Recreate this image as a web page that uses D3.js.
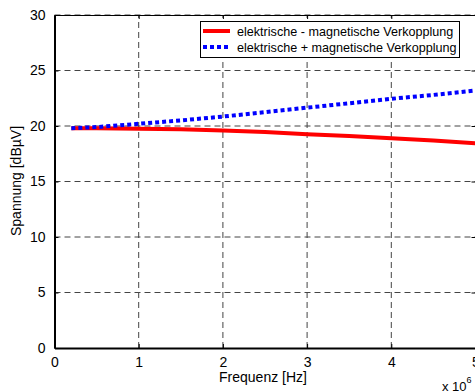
<!DOCTYPE html>
<html>
<head>
<meta charset="utf-8">
<script src="https://cdn.jsdelivr.net/npm/d3@7"></script>
<style>
  body { margin: 0; background: #fff; overflow: hidden; }
  svg { display: block; font-family: "Liberation Sans", Arial, sans-serif; }
</style>
</head>
<body>
<svg width="475" height="392"></svg>
<script>
var svg = d3.select('svg');

// frequency in units of 1e6 Hz
var freq = [0.2, 0.5, 1, 1.5, 2, 2.5, 3, 3.5, 4, 4.5, 5];
var minusSeries = [19.8, 19.8, 19.75, 19.7, 19.6, 19.45, 19.25, 19.1, 18.9, 18.7, 18.45]; // elektrische - magnetische
var plusSeries = [19.8, 19.9, 20.2, 20.5, 20.85, 21.25, 21.65, 22.05, 22.45, 22.8, 23.2]; // elektrische + magnetische
var xTicks = [0, 1, 2, 3, 4, 5];
var yTicks = [0, 5, 10, 15, 20, 25, 30];
var legendLabels = ['elektrische - magnetische Verkopplung', 'elektrische + magnetische Verkopplung'];

var x = d3.scaleLinear().domain([0, 5]).range([54.5, 475.5]);
var y = d3.scaleLinear().domain([0, 30]).range([348, 15]);

// grid lines (dashed)
var grid = svg.append('g')
    .attr('stroke', '#444')
    .attr('stroke-width', 1)
    .attr('stroke-dasharray', '6,4');
grid.selectAll('line.gx')
  .data(xTicks.slice(1))
  .join('line')
    .attr('x1', d => x(d)).attr('x2', d => x(d))
    .attr('y1', y(0)).attr('y2', y(30));
grid.selectAll('line.gy')
  .data(yTicks.slice(1))
  .join('line')
    .attr('x1', x(0)).attr('x2', x(5))
    .attr('y1', d => y(d)).attr('y2', d => y(d));

// axes, ticks inside like matlab
svg.append('g')
    .attr('transform', 'translate(0,' + y(0) + ')')
    .call(d3.axisBottom(x).tickValues(xTicks).tickFormat(d3.format('d')).tickSize(-4).tickPadding(9).tickSizeOuter(0))
    .call(g => g.select('.domain').attr('stroke-width', 2));
svg.append('g')
    .attr('transform', 'translate(0,' + y(30) + ')')
    .call(d3.axisTop(x).tickValues(xTicks).tickSize(-4).tickSizeOuter(0).tickFormat(''));
svg.append('g')
    .attr('transform', 'translate(' + x(0) + ',0)')
    .call(d3.axisLeft(y).tickValues(yTicks).tickFormat(d3.format('d')).tickSize(-4).tickPadding(9).tickSizeOuter(0))
    .call(g => g.select('.domain').attr('stroke-width', 2));
svg.append('g')
    .attr('transform', 'translate(' + x(5) + ',0)')
    .call(d3.axisRight(y).tickValues(yTicks).tickSize(-4).tickSizeOuter(0).tickFormat(''));

svg.selectAll('.tick text')
    .attr('font-size', 14)
    .attr('font-family', '"Liberation Sans", Arial, sans-serif')
    .attr('fill', '#000');

// data lines
var line = d3.line()
    .x((d, i) => x(freq[i]))
    .y(d => y(d));

svg.append('path')
    .datum(minusSeries)
    .attr('fill', 'none')
    .attr('stroke', '#ff0000')
    .attr('stroke-width', 4)
    .attr('d', line);

svg.append('path')
    .datum(plusSeries)
    .attr('fill', 'none')
    .attr('stroke', '#0000ff')
    .attr('stroke-width', 4)
    .attr('stroke-dasharray', '4,3')
    .attr('d', line);

// axis labels
svg.append('text')
    .attr('x', 263).attr('y', 382)
    .attr('text-anchor', 'middle')
    .attr('font-size', 14)
    .text('Frequenz [Hz]');
svg.append('text')
    .attr('transform', 'translate(21,181)rotate(-90)')
    .attr('text-anchor', 'middle')
    .attr('font-size', 14)
    .text('Spannung [dBµV]');

// exponent
var expo = svg.append('text')
    .attr('x', 442).attr('y', 391)
    .attr('font-size', 13);
expo.append('tspan').text('x 10');
expo.append('tspan').attr('dy', -8).attr('font-size', 9).text('6');

// legend
var legend = svg.append('g');
legend.append('rect')
    .attr('x', 200.5).attr('y', 21.5)
    .attr('width', 259).attr('height', 36)
    .attr('fill', '#fff')
    .attr('stroke', '#000');
var legendStyles = [
  { color: '#ff0000', dash: null },
  { color: '#0000ff', dash: '4,3' }
];
legendLabels.forEach(function(lbl, i) {
  var yy = 31 + i * 16;
  legend.append('line')
      .attr('x1', 203).attr('x2', 230)
      .attr('y1', yy).attr('y2', yy)
      .attr('stroke', legendStyles[i].color)
      .attr('stroke-width', 4)
      .attr('stroke-dasharray', legendStyles[i].dash);
  legend.append('text')
      .attr('x', 237).attr('y', yy + 4.5)
      .attr('font-size', 12.6)
      .text(lbl);
});
</script>
</body>
</html>
